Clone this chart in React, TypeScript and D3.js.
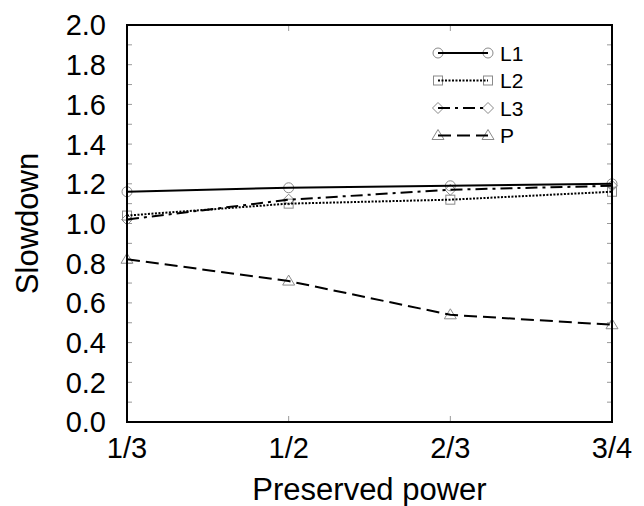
import React, { useEffect, useRef } from "react";
import * as d3 from "d3";

const categories = ["1/3", "1/2", "2/3", "3/4"];
const seriesNames = ["L1", "L2", "L3", "P"];
const l1Values = [1.16, 1.18, 1.19, 1.2];
const l2Values = [1.04, 1.1, 1.12, 1.16];
const l3Values = [1.02, 1.12, 1.17, 1.19];
const pValues = [0.82, 0.71, 0.54, 0.49];
const yTickLabels = [0, 0.2, 0.4, 0.6, 0.8, 1.0, 1.2, 1.4, 1.6, 1.8, 2.0];

const FONT = "'Liberation Sans', Arial, sans-serif";

const App = () => {
  const svgRef = useRef<SVGSVGElement>(null);

  useEffect(() => {
    const svg = d3.select(svgRef.current);
    svg.selectAll("*").remove();

    const left = 127, right = 612, top = 25, bottom = 422;

    const x = d3.scalePoint().domain(categories).range([left, right]);
    const y = d3.scaleLinear().domain([0, 2]).range([bottom, top]);

    const series = [
      { name: "L1", values: l1Values, dash: null, marker: "circle" },
      { name: "L2", values: l2Values, dash: "2,1.5", marker: "square" },
      { name: "L3", values: l3Values, dash: "12,5,3,5", marker: "diamond" },
      { name: "P", values: pValues, dash: "13,6", marker: "triangle" },
    ];

    // ticks on all four sides, pointing inwards
    const minor = d3.range(0, 2.0001, 0.1);
    const tickG = svg.append("g").attr("stroke", "#999").attr("stroke-width", 1);
    minor.forEach((v) => {
      tickG.append("line").attr("x1", left).attr("x2", left + 5).attr("y1", y(v)).attr("y2", y(v));
      tickG.append("line").attr("x1", right).attr("x2", right - 5).attr("y1", y(v)).attr("y2", y(v));
    });
    categories.forEach((c) => {
      tickG.append("line").attr("x1", x(c)).attr("x2", x(c)).attr("y1", bottom).attr("y2", bottom - 6);
      tickG.append("line").attr("x1", x(c)).attr("x2", x(c)).attr("y1", top).attr("y2", top + 6);
    });

    // y tick labels
    svg
      .append("g")
      .selectAll("text")
      .data(yTickLabels)
      .join("text")
      .attr("x", 106)
      .attr("y", (d) => y(d))
      .attr("dy", "0.36em")
      .attr("text-anchor", "end")
      .attr("font-family", FONT)
      .attr("font-size", 29)
      .text((d) => d3.format(".1f")(d));

    // x tick labels
    svg
      .append("g")
      .selectAll("text")
      .data(categories)
      .join("text")
      .attr("x", (d) => x(d))
      .attr("y", 458)
      .attr("text-anchor", "middle")
      .attr("font-family", FONT)
      .attr("font-size", 29)
      .text((d) => d);

    // axis titles
    svg
      .append("text")
      .attr("x", (left + right) / 2)
      .attr("y", 500)
      .attr("text-anchor", "middle")
      .attr("font-family", FONT)
      .attr("font-size", 31)
      .text("Preserved power");
    svg
      .append("text")
      .attr("transform", `translate(38,${(top + bottom) / 2}) rotate(-90)`)
      .attr("text-anchor", "middle")
      .attr("font-family", FONT)
      .attr("font-size", 31)
      .text("Slowdown");

    const drawMarker = (g, kind, cx, cy) => {
      const m = g.append("g").attr("fill", "none").attr("stroke", "#8a8a8a").attr("stroke-width", 1);
      if (kind === "circle") m.append("circle").attr("cx", cx).attr("cy", cy).attr("r", 5);
      else if (kind === "square") m.append("rect").attr("x", cx - 4.5).attr("y", cy - 4.5).attr("width", 9).attr("height", 9);
      else if (kind === "diamond")
        m.append("path").attr("d", `M${cx},${cy - 5.5}L${cx + 5.5},${cy}L${cx},${cy + 5.5}L${cx - 5.5},${cy}Z`);
      else m.append("path").attr("d", `M${cx},${cy - 6}L${cx + 6},${cy + 4}L${cx - 6},${cy + 4}Z`);
    };

    const line = d3
      .line<number>()
      .x((_, i) => x(categories[i]))
      .y((d) => y(d));

    const plot = svg.append("g");
    series.forEach((s) => {
      s.values.forEach((v, i) => drawMarker(plot, s.marker, x(categories[i]), y(v)));
    });
    series.forEach((s) => {
      plot
        .append("path")
        .attr("d", line(s.values))
        .attr("fill", "none")
        .attr("stroke", "#000")
        .attr("stroke-width", 2)
        .attr("stroke-dasharray", s.dash);
    });

    // legend
    const legend = svg.append("g");
    series.forEach((s, i) => {
      const ly = 53 + i * 27.5;
      drawMarker(legend, s.marker, 438, ly);
      drawMarker(legend, s.marker, 488, ly);
      legend
        .append("line")
        .attr("x1", 438)
        .attr("x2", 488)
        .attr("y1", ly)
        .attr("y2", ly)
        .attr("stroke", "#000")
        .attr("stroke-width", 2)
        .attr("stroke-dasharray", s.dash);
      legend
        .append("text")
        .attr("x", 500)
        .attr("y", ly)
        .attr("dy", "0.36em")
        .attr("font-family", FONT)
        .attr("font-size", 21)
        .text(seriesNames[i]);
    });

    // frame
    svg
      .append("rect")
      .attr("x", left)
      .attr("y", top)
      .attr("width", right - left)
      .attr("height", bottom - top)
      .attr("fill", "none")
      .attr("stroke", "#000")
      .attr("stroke-width", 2);
  }, []);

  return (
    <svg
      ref={svgRef}
      width={644}
      height={506}
      style={{ position: "absolute", left: 0, top: 0, background: "#fff" }}
    />
  );
};

export default App;
